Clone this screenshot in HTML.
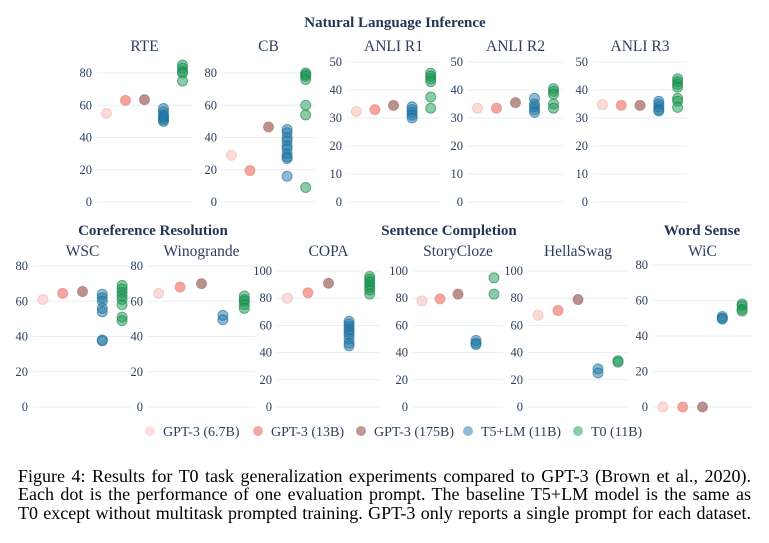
<!DOCTYPE html>
<html><head><meta charset="utf-8"><style>
body{margin:0;background:#fff;width:769px;height:543px;overflow:hidden;font-family:"Liberation Serif",serif}
svg text{font-family:"Liberation Serif",serif}
#cap{position:absolute;left:18px;top:467px;width:733px;font-size:18px;line-height:18.4px;color:#000;text-align:justify;text-align-last:justify;font-family:"Liberation Serif",serif}
#cap span{display:block;white-space:nowrap}
</style></head><body>
<svg id="chart" width="769" height="460" style="position:absolute;left:0;top:0"></svg>
<div id="cap">
<span>Figure 4: Results for T0 task generalization experiments compared to GPT-3 (Brown et al., 2020).</span>
<span>Each dot is the performance of one evaluation prompt. The baseline T5+LM model is the same as</span>
<span>T0 except without multitask prompted training. GPT-3 only reports a single prompt for each dataset.</span>
</div>
<script>
const datasets=["RTE","CB","ANLI R1","ANLI R2","ANLI R3","WSC","Winogrande","COPA","StoryCloze","HellaSwag","WiC"];
const gpt67=[55,29,32.3,33.5,34.8,61,64.5,80,78,67.5,0];
const gpt13=[63,19.5,33,33.5,34.5,64.5,68,84,79.5,71,0];
const gpt175=[63.5,46.5,34.5,35.5,34.5,65.5,70,91,83,79,0];
const t5lm=[[58,56,54,52,51,50,53],[45,43,40,38,35,33,30,28,27,16],[34,33,32,31,30],[37,35,34,33,32],[36,35,34,33,32.5],[64,62,60,56,54,38,37.5],[52,49.5],[63,61,59,57,55,53,50,47,45],[49,47,46],[28,25],[51,50,49.5]];
const t0=[[85,83,81,80,75],[80,79,78,76,60,54,9],[46,45,44,43,37.5,33.5],[40.5,39.5,38.5,35,33.5],[44,43,42,41,37,36,33.8],[69,67,65,63,61,58,51,49],[63,61,60,58,56],[96,94,92,90,88,86,83],[95,83],[34,33],[58,57,55,54]];
const ticks=[[0,20,40,60,80],[0,20,40,60,80],[0,10,20,30,40,50],[0,10,20,30,40,50],[0,10,20,30,40,50],[0,20,40,60,80],[0,20,40,60,80],[0,20,40,60,80,100],[0,20,40,60,80,100],[0,20,40,60,80,100],[0,20,40,60,80]];
const legendLabels=["GPT-3 (6.7B)","GPT-3 (13B)","GPT-3 (175B)","T5+LM (11B)","T0 (11B)"];
const groups=[["Natural Language Inference",395,27],["Coreference Resolution",153,235],["Sentence Completion",449,235],["Word Sense",702,235]];
const boxes=[[97,192,202,73],[222,315,202,73],[347,440,202,62],[468,563,202,62],[593,687,202,62],
[33,132,407,266],[148,255,407,266],[277,380,407,271],[413,503,407,271],[528,628,407,271],[653,752,407,265]];
const fills=["#fcd6d3","#f4948d","#b07e79","#1f77a8","#1a9850"];
const strokes=["#e8b8b5","#e37f78","#9a6a66","#1a6a96","#14834a"];
const ops=[0.9,0.85,0.85,0.5,0.5];
const NS="http://www.w3.org/2000/svg";
const svg=document.getElementById('chart');
function mk(t,a,p){const e=document.createElementNS(NS,t);for(const k in a)e.setAttribute(k,a[k]);(p||svg).appendChild(e);return e;}
groups.forEach(g=>{const t=mk('text',{x:g[1],y:g[2],'text-anchor':'middle','font-size':15,'font-weight':'bold',fill:'#1f3553'});t.textContent=g[0];

});
datasets.forEach((name,i)=>{
  const [x0,x1,yb,yt]=boxes[i];const tk=ticks[i];const tmax=tk[tk.length-1];
  const ys=v=>yb-(yb-yt)*v/tmax;const xs=f=>x0+(x1-x0)*f;
  const g=mk('g',{});
  
  
  const tt=mk('text',{x:(x0+x1)/2,y:i<5?51:256,'text-anchor':'middle','font-size':15.5,fill:'#2a3f5f'},g);tt.textContent=name;
  
  
  tk.forEach(v=>{mk('line',{x1:x0,x2:x1,y1:ys(v),y2:ys(v),stroke:'#e8edf5','stroke-width':1},g);
    const l=mk('text',{x:x0-5,y:ys(v)+4,'text-anchor':'end','font-size':12.5,fill:'#2a3f5f'},g);l.textContent=v;
    
    });
  const series=[[gpt67[i]],[gpt13[i]],[gpt175[i]],t5lm[i],t0[i]];
  series.forEach((arr,s)=>arr.forEach(v=>{const c=mk('circle',{cx:xs(0.1+0.2*s),cy:ys(v),r:5,fill:fills[s],'fill-opacity':ops[s],stroke:strokes[s],'stroke-opacity':0.6,'stroke-width':1},g);
    
    }));
});
const lx=[150,258,361,468,578];
legendLabels.forEach((lab,s)=>{const g=mk('g',{});
  
  
  mk('circle',{cx:lx[s],cy:431,r:5,fill:fills[s],'fill-opacity':s>2?0.5:0.8},g);
  const t=mk('text',{x:lx[s]+13,y:436,'font-size':14,fill:'#2a3f5f'},g);t.textContent=lab;});
</script>
</body></html>
